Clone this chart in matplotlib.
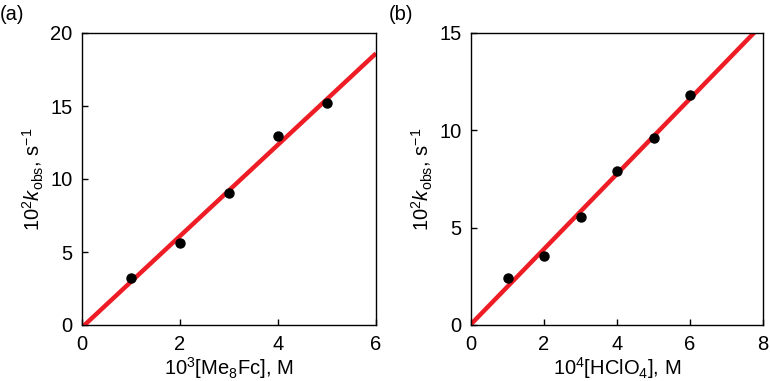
import numpy as np
import matplotlib
matplotlib.use("Agg")
import matplotlib.pyplot as plt

plt.rcParams['font.family'] = ['Liberation Sans', 'DejaVu Sans']
plt.rcParams['mathtext.fontset'] = 'custom'
plt.rcParams['mathtext.rm'] = 'Liberation Sans'
plt.rcParams['mathtext.it'] = 'Liberation Sans:italic'

# panel (a): kobs vs [Me8Fc]
me8fc = [1, 2, 3, 4, 5]
kobs_a = [3.25, 5.62, 9.05, 12.96, 15.22]

# panel (b): kobs vs [HClO4]
hclo4 = [1, 2, 3, 4, 5, 6]
kobs_b = [2.40, 3.53, 5.55, 7.90, 9.60, 11.80]

fig = plt.figure(figsize=(7.7, 3.81), dpi=100)
ax1 = fig.add_axes([82/770, 1-325/381, 294/770, 292/381])
ax2 = fig.add_axes([471/770, 1-325/381, 292/770, 292/381])


def panel(ax, x, y, xmax, ymax, yticks, xlabel, tag):
    p = np.polyfit(x, y, 1)
    xs = np.array([0, xmax])
    ax.plot(xs, np.polyval(p, xs), color='#ee1c24', lw=3.2, solid_capstyle='butt', zorder=2)
    ax.plot(x, y, 'o', color='black', ms=6.5, zorder=3)
    ax.set_xlim(0, xmax)
    ax.set_ylim(0, ymax)
    ax.set_xticks(range(0, xmax + 1, 2))
    ax.set_yticks(yticks)
    ax.tick_params(direction='in', length=4, width=1, labelsize=14.5, pad=7,
                   top=False, right=False)
    for s in ax.spines.values():
        s.set_linewidth(1)
    ax.set_xlabel(xlabel, fontsize=14.5, labelpad=1)
    ax.set_ylabel(r'10$^2$$\it{k}$$_{\rm obs}$, s$^{-1}$', fontsize=14.5, labelpad=3)
    ax.text(-0.28, 1.065, tag, transform=ax.transAxes, fontsize=14.5, va='center')


panel(ax1, me8fc, kobs_a, 6, 20, [0, 5, 10, 15, 20],
      r'10$^3$[Me$_8$Fc], M', '(a)')
panel(ax2, hclo4, kobs_b, 8, 15, [0, 5, 10, 15],
      r'10$^4$[HClO$_4$], M', '(b)')

fig.savefig('out.png', dpi=100)
